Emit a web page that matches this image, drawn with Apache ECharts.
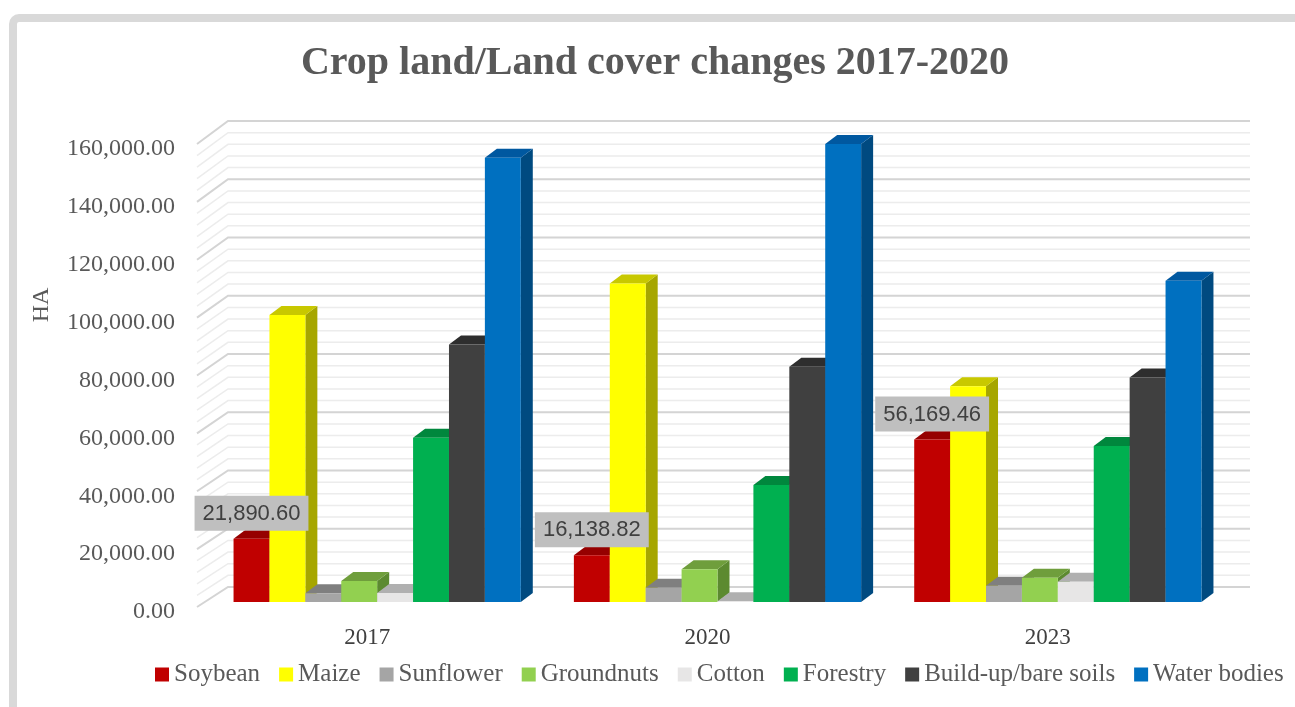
<!DOCTYPE html>
<html>
<head>
<meta charset="utf-8">
<title>Crop land/Land cover changes 2017-2020</title>
<script src="https://cdn.jsdelivr.net/npm/echarts@6/dist/echarts.min.js"></script>
<style>
  html, body { margin: 0; padding: 0; background: #ffffff; }
  #chart { width: 1295px; height: 707px; }
</style>
</head>
<body>
<div id="chart"></div>
<script>
// ---- data (hectares) ----
const years = ['2017', '2020', '2023'];
const seriesNames = ['Soybean', 'Maize', 'Sunflower', 'Groundnuts', 'Cotton', 'Forestry', 'Build-up/bare soils', 'Water bodies'];
const soybean     = [21890.60, 16138.82, 56169.46];
const maize       = [99200, 110100, 74600];
const sunflower   = [3000, 4900, 5600];
const groundnuts  = [7300, 11300, 8400];
const cotton      = [3100, 300, 7000];
const forestry    = [56800, 40400, 53900];
const buildUp     = [89000, 81300, 77600];
const waterBodies = [153500, 158300, 111000];
const yTicks = [0, 20000, 40000, 60000, 80000, 100000, 120000, 140000, 160000];
const labelledSeries = ['Soybean'];
const chartTitle = 'Crop land/Land cover changes 2017-2020';
const yAxisTitle = 'HA';

// ---- styling ----
const frontColors = ['#c00000', '#ffff00', '#a5a5a5', '#92d050', '#e7e6e6', '#00b050', '#404040', '#0070c0'];
const topColors   = ['#960000', '#c8c800', '#7f7f7f', '#6f9e3c', '#b0b0b0', '#00873d', '#2e2e2e', '#0058a0'];
const sideColors  = ['#800000', '#a6a600', '#6e6e6e', '#5c8a30', '#9a9a9a', '#006e32', '#262626', '#004a80'];
const SERIF = "'Liberation Serif', 'DejaVu Serif', serif";
const SANS = "'Liberation Sans', Arial, sans-serif";
const TEXT_GREY = '#595959';

// 3D geometry of the pseudo-perspective box
const BAR_DX = 12, BAR_DY = 9;            // depth of each bar
const BAR_RATIO = 0.1055;                 // bar width as a share of a category band
const WALL_DY0 = 15, WALL_SCALE = 1.0065; // back wall offset / scale vs. bar fronts
const SIDE_FRONT_DX = -10, SIDE_BACK_DX = 21, WALL_RIGHT_DX = 22, LABEL_SHIFT = 5;
const MINOR_PER_MAJOR = 5;

const allValues = [soybean, maize, sunflower, groundnuts, cotton, forestry, buildUp, waterBodies];
const fmt = v => v.toLocaleString('en-US', { minimumFractionDigits: 2, maximumFractionDigits: 2 });

// gridline list for the back and side walls (major ticks plus minor subdivisions)
const wallLines = [];
for (let i = 0; i < yTicks.length; i++) {
  wallLines.push([0, yTicks[i], 1]);
  if (i < yTicks.length - 1) {
    const step = (yTicks[i + 1] - yTicks[i]) / MINOR_PER_MAJOR;
    for (let k = 1; k < MINOR_PER_MAJOR; k++) wallLines.push([0, yTicks[i] + k * step, 0]);
  }
}

function renderWall(params, api) {
  const v = api.value(1);
  const major = api.value(2) === 1;
  const cs = params.coordSys;
  const base = api.coord([0, 0])[1];
  const fy = api.coord([0, v])[1];
  const backY = base - WALL_DY0 - (base - fy) * WALL_SCALE;
  const frontY = fy + LABEL_SHIFT;
  return {
    type: 'polyline',
    silent: true,
    shape: { points: [[cs.x + SIDE_FRONT_DX, frontY], [cs.x + SIDE_BACK_DX, backY], [cs.x + cs.width + WALL_RIGHT_DX, backY]] },
    style: { stroke: major ? '#d4d4d4' : '#ececec', lineWidth: major ? 2 : 1.5, fill: null }
  };
}

function makeBarRenderer(s, withLabel) {
  const n = seriesNames.length;
  return function (params, api) {
    const cat = api.value(0), val = api.value(1);
    const top = api.coord([cat, val]);
    const base = api.coord([cat, 0]);
    const band = api.size([1, 0])[0];
    const bw = band * BAR_RATIO;
    const x0 = top[0] - bw * n / 2 + s * bw;
    const yT = top[1], yB = base[1];
    const children = [
      { type: 'polygon', shape: { points: [[x0 + bw, yT], [x0 + bw + BAR_DX, yT - BAR_DY], [x0 + bw + BAR_DX, yB - BAR_DY], [x0 + bw, yB]] },
        style: { fill: sideColors[s] } },
      { type: 'polygon', shape: { points: [[x0, yT], [x0 + bw, yT], [x0 + bw + BAR_DX, yT - BAR_DY], [x0 + BAR_DX, yT - BAR_DY]] },
        style: { fill: topColors[s] } },
      { type: 'rect', shape: { x: x0, y: yT, width: bw, height: yB - yT },
        style: { fill: frontColors[s] } }
    ];
    if (withLabel) {
      children.push({
        type: 'text', z2: 100,
        style: {
          text: fmt(val), x: x0 + bw / 2, y: yT - 8, align: 'center', verticalAlign: 'bottom',
          fontFamily: SANS, fontSize: 22, fill: '#404040',
          backgroundColor: '#bfbfbf', padding: [7, 8, 6, 8]
        }
      });
    }
    return { type: 'group', children };
  };
}

const barSeries = seriesNames.map((name, s) => ({
  name,
  type: 'custom',
  z: 2,
  itemStyle: { color: frontColors[s] },
  encode: { x: 0, y: 1 },
  data: allValues[s].map((v, i) => [i, v]),
  renderItem: makeBarRenderer(s, labelledSeries.includes(name))
}));

const chart = echarts.init(document.getElementById('chart'), null, { renderer: 'canvas' });
chart.setOption({
  animation: false,
  backgroundColor: '#ffffff',
  legend: {
    data: seriesNames,
    left: 150, top: 657,
    icon: 'rect', itemWidth: 14, itemHeight: 14, itemGap: 19,
    textStyle: { fontFamily: SERIF, fontSize: 25, lineHeight: 25, color: TEXT_GREY }
  },
  grid: { left: 207, right: 67, top: 139, bottom: 105 },
  xAxis: {
    type: 'category', data: years,
    axisLine: { show: false }, axisTick: { show: false }, splitLine: { show: false },
    axisLabel: { margin: 24, padding: [0, 20, 0, 0], fontFamily: SERIF, fontSize: 23, lineHeight: 24, color: '#404040' }
  },
  yAxis: {
    type: 'value',
    min: yTicks[0], max: yTicks[yTicks.length - 1], interval: yTicks[1] - yTicks[0],
    axisLine: { show: false }, axisTick: { show: false }, splitLine: { show: false },
    axisLabel: { margin: 32, verticalAlign: 'top', lineHeight: 20, fontFamily: SERIF, fontSize: 24, color: TEXT_GREY,
      formatter: v => fmt(v) }
  },
  graphic: [
    { type: 'rect', silent: true, z: -10, shape: { x: 13, y: 18, width: 1300, height: 700, r: 6 },
      style: { fill: 'none', stroke: '#d9d9d9', lineWidth: 8 } },
    { type: 'text', silent: true, x: 655, y: 64,
      style: { text: chartTitle, align: 'center', verticalAlign: 'middle', fontFamily: SERIF, fontWeight: 'bold', fontSize: 40, fill: TEXT_GREY } },
    { type: 'text', silent: true, x: 42, y: 305, rotation: Math.PI / 2,
      style: { text: yAxisTitle, align: 'center', verticalAlign: 'middle', fontFamily: SERIF, fontSize: 24, fill: TEXT_GREY } }
  ],
  series: [
    { name: 'walls', type: 'custom', z: 0, silent: true, encode: { x: 0, y: 1 }, data: wallLines, renderItem: renderWall }
  ].concat(barSeries)
});
</script>
</body>
</html>
